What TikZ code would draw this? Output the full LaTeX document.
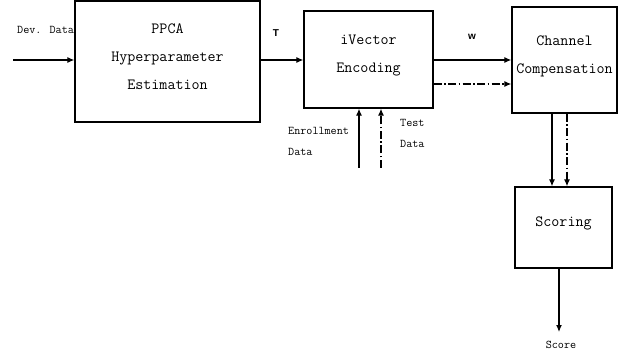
\documentclass[tikz,border=0pt]{standalone}
\usepackage{fontspec}
\newfontfamily\lblfont{Liberation Sans}
\usetikzlibrary{arrows.meta}
\tikzset{
  blk/.style={draw, line width=1.3pt, rectangle, inner sep=0pt},
  blktxt/.style={align=center, inner sep=0pt,
    font=\ttfamily\fontsize{15.6}{28}\selectfont},
  small/.style={font=\ttfamily\fontsize{11.8}{21}\selectfont, inner sep=0pt, align=left},
  tag/.style={font=\lblfont\bfseries\fontsize{10}{11}\selectfont, inner sep=0pt},
  flow/.style={line width=1.2pt, -{Latex[length=7pt,width=6pt]}},
  dd/.style={flow, dash pattern=on 8pt off 2.5pt on 1.5pt off 2.5pt}
}
\begin{document}
\begin{tikzpicture}[x=1pt,y=-1pt]
\useasboundingbox (0,0) rectangle (632,358);
% boxes
\node[blk, minimum width=185pt, minimum height=121pt] (ppca) at (167.5,61.5) {};
\node[blk, minimum width=129pt, minimum height=97pt] (ivec) at (368.5,59.5) {};
\node[blk, minimum width=105pt, minimum height=106pt] (chan) at (564.5,60) {};
\node[blk, minimum width=97pt, minimum height=81pt] (scor) at (563.5,227.5) {};
\node[blktxt] (ppcat) at ([yshift=5pt]ppca.center) {PPCA\\Hyperparameter\\Estimation};
\node[blktxt] (ivect) at ([yshift=4pt]ivec.center) {iVector\\Encoding};
\node[blktxt] (chant) at ([yshift=4pt]chan.center) {Channel\\Compensation};
\node[blktxt] (scort) at ([yshift=4pt]scor.center) {Scoring};
% text labels
\node[small, anchor=west] (dev) at (17,30) {Dev. Data};
\node[small, anchor=north west] (enr) at (288,127) {Enrollment\\Data};
\node[small, anchor=north west] (tst) at (400,119) {Test\\Data};
\node[small] (scr) at (561,345) {Score};
\node[tag] (T) at (276,33) {T};
\node[tag] (w) at (472,37) {w};
% free ends
\coordinate (devs) at (13,60);
\coordinate (enrs) at (359,168);
\coordinate (tsts) at (381,168);
\coordinate (scre) at (559,332);
% connectors
\draw[flow] (devs) -- (devs -| ppca.west);
\draw[flow] (ppca.east |- devs) -- (ivec.west |- devs);
\draw[flow] (ivec.east |- devs) -- (chan.west |- devs);
\draw[dd] (ivec.east |- 0,84) -- (chan.west |- 0,84);
\draw[flow] (enrs) -- (enrs |- ivec.south);
\draw[dd] (tsts) -- (tsts |- ivec.south);
\draw[flow] (chan.south -| 552,0) -- (scor.north -| 552,0);
\draw[dd] (chan.south -| 567,0) -- (scor.north -| 567,0);
\draw[flow] (scor.south -| scre) -- (scre);
\end{tikzpicture}
\end{document}
